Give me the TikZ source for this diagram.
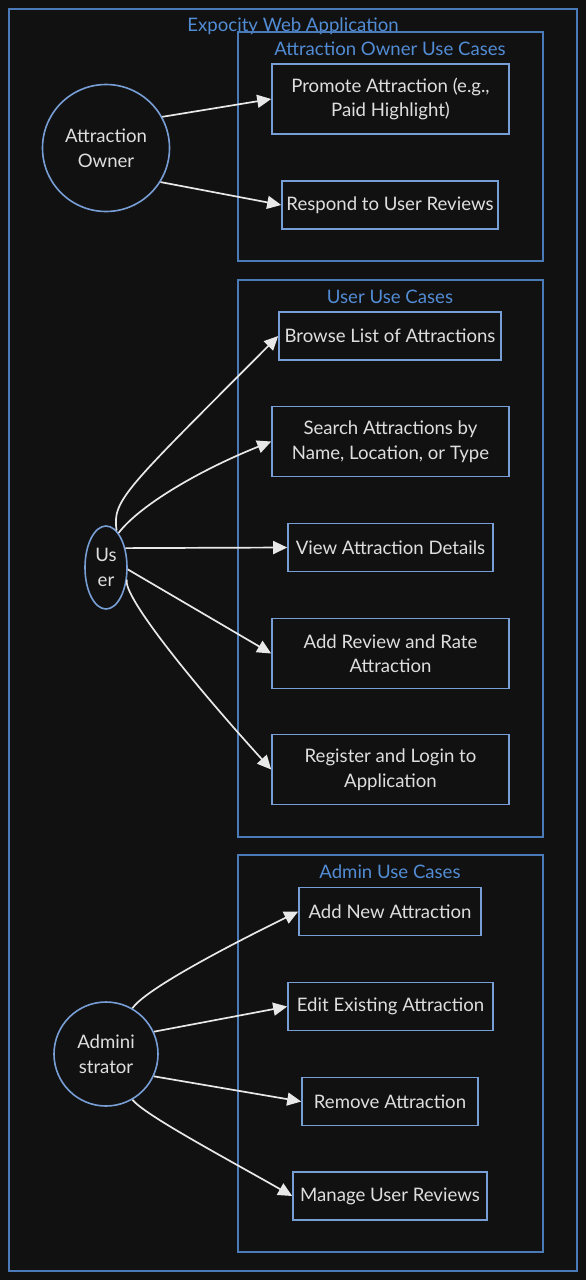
\documentclass[tikz,border=0pt]{standalone}
\usepackage{fontspec}
\setmainfont{Lato}
\usetikzlibrary{shapes.geometric,arrows.meta}
\definecolor{bg}{RGB}{17,17,17}
\definecolor{nodeblue}{RGB}{120,158,214}
\definecolor{grpblue}{RGB}{74,122,184}
\definecolor{ttlblue}{RGB}{82,140,212}
\definecolor{txt}{RGB}{222,222,222}
\definecolor{arr}{RGB}{232,232,232}
\tikzset{
  x=1pt,y=-1pt,
  every node/.style={font=\fontsize{18.6}{24.5}\selectfont, text=txt},
  ucase/.style={draw=nodeblue, line width=1.6pt, rectangle, align=center, inner sep=0pt},
  actor/.style={draw=nodeblue, line width=1.6pt, circle, align=center, inner sep=0pt},
  grp/.style={draw=grpblue, line width=1.2pt},
  ttl/.style={text=ttlblue},
  link/.style={draw=arr, line width=1.7pt, -{Triangle[length=14pt,width=13pt]}},
}
\begin{document}
\begin{tikzpicture}
\fill[bg] (0,0) rectangle (586,1280);
\useasboundingbox (0,0) rectangle (586,1280);
% outer system frame
\draw[grp] (9,9) rectangle (577,1271);
\node[ttl] (sys) at (293,26) {Expocity Web Application};
% groups
\draw[grp] (238,32) rectangle (543,261);
\node[ttl] (gowner) at (390,49) {Attraction Owner Use Cases};
\draw[grp] (238,280) rectangle (543,837);
\node[ttl] (guser) at (390,297) {User Use Cases};
\draw[grp] (238,855) rectangle (543,1252);
\node[ttl] (gadmin) at (390,872) {Admin Use Cases};
% owner use cases
\node[ucase, minimum width=237, minimum height=70] (prom) at (390.5,99) {Promote Attraction (e.g.,\\Paid Highlight)};
\node[ucase, minimum width=216, minimum height=48] (resp) at (390,205) {Respond to User Reviews};
% user use cases
\node[ucase, minimum width=222, minimum height=48] (brow) at (390,336) {Browse List of Attractions};
\node[ucase, minimum width=237, minimum height=70] (srch) at (390.5,441.5) {Search Attractions by\\Name, Location, or Type};
\node[ucase, minimum width=205, minimum height=48] (view) at (390.5,547.5) {View Attraction Details};
\node[ucase, minimum width=237, minimum height=70] (rev) at (390.5,653.5) {Add Review and Rate\\Attraction};
\node[ucase, minimum width=237, minimum height=70] (reg) at (390.5,769.5) {Register and Login to\\Application};
% admin use cases
\node[ucase, minimum width=182, minimum height=48] (addn) at (390,911.5) {Add New Attraction};
\node[ucase, minimum width=205, minimum height=48] (edit) at (390.5,1006.5) {Edit Existing Attraction};
\node[ucase, minimum width=176, minimum height=48] (remv) at (390,1101.5) {Remove Attraction};
\node[ucase, minimum width=194, minimum height=48] (mng) at (390,1196) {Manage User Reviews};
% actors
\node[actor, minimum size=127] (owner) at (106,148) {Attraction\\Owner};
\node[draw=nodeblue, line width=1.6pt, ellipse, align=center, inner sep=0pt, minimum width=42, minimum height=83] (user) at (106,567.5) {Us\\er};
\node[actor, minimum size=104] (admin) at (106,1054) {Admini\\strator};
% connectors
\draw[link] (owner.29) -- (prom.west);
\draw[link] (owner.-32) -- (resp.west);
\draw[link] (user.74) .. controls (112,500) and (125,490) .. (brow.west);
\draw[link] (user.70) .. controls (140,505) and (200,470) .. (srch.west);
\draw[link] (user.45) -- (view.west);
\draw[link] (user.-5) -- (rev.west);
\draw[link] (user.-30) .. controls (122,595) and (190,680) .. (reg.west);
\draw[link] (admin.60) .. controls (145,990) and (220,950) .. (addn.west);
\draw[link] (admin.25) -- (edit.west);
\draw[link] (admin.-25) -- (remv.west);
\draw[link] (admin.-60) .. controls (145,1115) and (220,1155) .. (mng.west);
\end{tikzpicture}
\end{document}
